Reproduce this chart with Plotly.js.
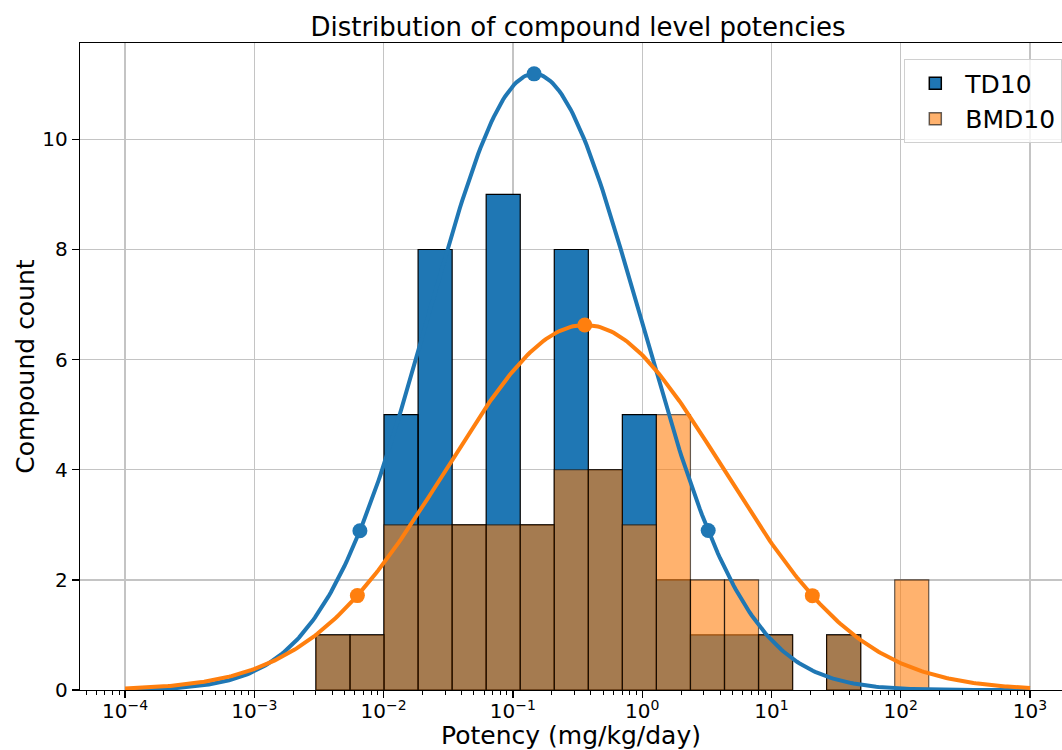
<!DOCTYPE html>
<html>
<head>
<meta charset="utf-8">
<script src="https://cdn.plot.ly/plotly-3.0.1.min.js"></script>
<style>html,body{margin:0;padding:0;background:#fff;}#chart{width:1062px;height:750px;}</style>
</head>
<body>
<div id="chart"></div>
<script>
// Histogram bin edges (mg/kg/day), log-spaced
const binEdges = [0.00300, 0.00550, 0.01008, 0.01849, 0.03390, 0.06216, 0.1140, 0.2090, 0.3832, 0.7025,
                  1.288, 2.362, 4.331, 7.943, 14.56, 26.70, 48.96, 89.76, 164.6];
// Counts per bin
const td10Counts  = [1, 1, 5, 8, 3, 9, 3, 8, 4, 5, 2, 1, 1, 1, 0, 1, 0, 0];
const bmd10Counts = [1, 1, 3, 3, 3, 3, 3, 4, 4, 3, 5, 2, 2, 1, 0, 1, 0, 2];

// Fitted log-normal curves (parameters in log10 space, peak height in counts)
const td10Fit  = {mu: -0.836, sigma: 0.819, peak: 11.19};
const bmd10Fit = {mu: -0.4435, sigma: 1.0696, peak: 6.63};
const curveRange = [-4, 3]; // log10 extent of the fitted curves
// Marker positions on the curves (5th percentile, mode, 95th percentile)
const td10MarkerX  = [0.00656, 0.1459, 3.24];
const bmd10MarkerX = [0.00627, 0.360, 20.7];

const legendNames = ['TD10', 'BMD10'];

// Tick labels
const xTickVals = [1e-4, 1e-3, 1e-2, 1e-1, 1e0, 1e1, 1e2, 1e3];
const xTickText = ['10<sup>\u22124</sup>', '10<sup>\u22123</sup>', '10<sup>\u22122</sup>', '10<sup>\u22121</sup>',
                   '10<sup>0</sup>', '10<sup>1</sup>', '10<sup>2</sup>', '10<sup>3</sup>'];
const yTickVals = [0, 2, 4, 6, 8, 10];

function barPolys(edges, counts) {
  const xs = [], ys = [];
  for (let i = 0; i < counts.length; i++) {
    if (counts[i] <= 0) continue;
    xs.push(edges[i], edges[i], edges[i+1], edges[i+1], edges[i], null);
    ys.push(0, counts[i], counts[i], 0, 0, null);
  }
  return {x: xs, y: ys};
}
function gauss(fit, lx) {
  return fit.peak * Math.exp(-Math.pow(lx - fit.mu, 2) / (2 * fit.sigma * fit.sigma));
}
function curve(fit) {
  const xs = [], ys = [];
  const n = 400;
  for (let i = 0; i <= n; i++) {
    const lx = curveRange[0] + (curveRange[1] - curveRange[0]) * i / n;
    xs.push(Math.pow(10, lx));
    ys.push(gauss(fit, lx));
  }
  return {x: xs, y: ys};
}
function markers(fit, xs) {
  return {x: xs, y: xs.map(v => gauss(fit, Math.log10(v)))};
}

const blue = '#1f77b4', orange = '#ff7f0e';
const tdBars = barPolys(binEdges, td10Counts);
const bmdBars = barPolys(binEdges, bmd10Counts);
const tdCurve = curve(td10Fit), bmdCurve = curve(bmd10Fit);
const tdM = markers(td10Fit, td10MarkerX), bmdM = markers(bmd10Fit, bmd10MarkerX);

// minor tick positions for log axis
const minorTicks = [];
for (let d = -5; d <= 3; d++) for (let m = 2; m <= 9; m++) minorTicks.push(m * Math.pow(10, d));

const xr = [-4.348, 3.247];

const traces = [
  {x: tdBars.x, y: tdBars.y, type: 'scatter', mode: 'lines', fill: 'toself', fillcolor: blue,
   line: {color: '#000', width: 1.2}, showlegend: false, hoverinfo: 'skip'},
  {x: bmdBars.x, y: bmdBars.y, type: 'scatter', mode: 'lines', fill: 'toself', fillcolor: 'rgba(255,127,14,0.6)',
   line: {color: 'rgba(0,0,0,0.6)', width: 1.2}, showlegend: false, hoverinfo: 'skip'},
  {x: tdCurve.x, y: tdCurve.y, type: 'scatter', mode: 'lines', line: {color: blue, width: 4}, showlegend: false},
  {x: bmdCurve.x, y: bmdCurve.y, type: 'scatter', mode: 'lines', line: {color: orange, width: 4}, showlegend: false},
  {x: tdM.x, y: tdM.y, type: 'scatter', mode: 'markers', marker: {color: blue, size: 15}, showlegend: false},
  {x: bmdM.x, y: bmdM.y, type: 'scatter', mode: 'markers', marker: {color: orange, size: 15}, showlegend: false},
  // legend entries
  {x: [null], y: [null], type: 'bar', name: legendNames[0], marker: {color: blue, line: {color: '#000', width: 1.5}}},
  {x: [null], y: [null], type: 'bar', name: legendNames[1], marker: {color: 'rgba(255,127,14,0.6)', line: {color: 'rgba(0,0,0,0.6)', width: 1.5}}},
  {x: [], y: [], xaxis: 'x2', type: 'scatter', showlegend: false}
];

const font = 'DejaVu Sans, sans-serif';
const layout = {
  width: 1062, height: 750,
  margin: {l: 80, r: 0, t: 43, b: 60},
  paper_bgcolor: '#fff', plot_bgcolor: '#fff',
  font: {family: font, color: '#000'},
  title: {text: 'Distribution of compound level potencies', font: {size: 26, family: font, color: '#000'},
          x: 578 / 1062, xanchor: 'center', xref: 'container', y: 1 - 27 / 750, yanchor: 'middle', yref: 'container'},
  xaxis: {type: 'log', range: xr, tickmode: 'array', tickvals: xTickVals, ticktext: xTickText,
          ticks: 'outside', ticklen: 7, tickwidth: 1.3, tickcolor: '#000', ticklabelstandoff: -4,
          tickfont: {size: 20, family: font, color: '#000'},
          showgrid: true, gridcolor: '#c4c4c4', gridwidth: 1.3, zeroline: false,
          showline: true, linecolor: '#000', linewidth: 1.3, mirror: true,
          title: {text: 'Potency (mg/kg/day)', font: {size: 25, family: font, color: '#000'}, standoff: 8},
          automargin: false},
  xaxis2: {type: 'log', range: xr, overlaying: 'x', anchor: 'y', side: 'bottom',
           tickmode: 'array', tickvals: minorTicks, ticks: 'outside', ticklen: 4, tickwidth: 1, tickcolor: '#000',
           showticklabels: false, showgrid: false, showline: false, zeroline: false},
  yaxis: {range: [0, 11.75], tickmode: 'array', tickvals: yTickVals, ticks: 'outside', ticklen: 7, tickwidth: 1.3, tickcolor: '#000',
          tickfont: {size: 20, family: font, color: '#000'},
          showgrid: true, gridcolor: '#c4c4c4', gridwidth: 1.3, zeroline: false,
          showline: true, linecolor: '#000', linewidth: 1.3, mirror: true,
          title: {text: 'Compound count', font: {size: 25, family: font, color: '#000'}, standoff: 0},
          automargin: false},
  legend: {x: 1, xanchor: 'right', y: 0.975, yanchor: 'top', bgcolor: 'rgba(255,255,255,0.8)',
           bordercolor: '#d0d0d0', borderwidth: 1.3, font: {size: 25, family: font, color: '#000'},
           itemwidth: 50},
  showlegend: true
};

Plotly.newPlot('chart', traces, layout, {staticPlot: true, displayModeBar: false});
</script>
</body>
</html>
